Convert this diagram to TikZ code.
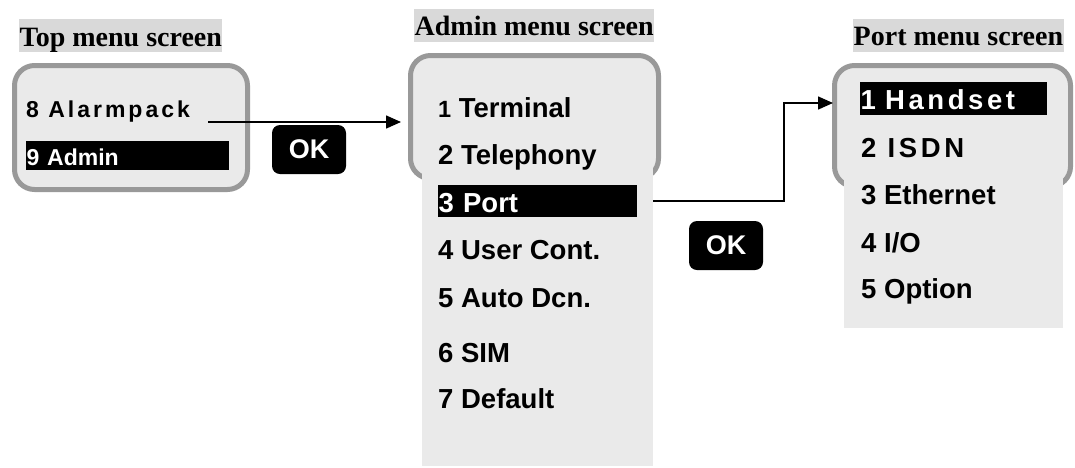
\documentclass[tikz,border=0pt]{standalone}
\usepackage{fontspec}
\setmainfont{Liberation Sans}
\newfontfamily\titlefont{Liberation Serif}
\newfontfamily\widefont[LetterSpace=13]{Liberation Sans}
\usetikzlibrary{arrows.meta}
\definecolor{scrfill}{HTML}{EAEAEA}
\definecolor{scrline}{HTML}{999999}
\definecolor{titlefill}{HTML}{D9D9D9}
\tikzset{
  screen/.style={draw=scrline, fill=scrfill, line width=5pt, rounded corners=20pt, inner sep=0pt},
  screenext/.style={fill=scrfill, inner sep=0pt, outer sep=0pt},
  menutitle/.style={fill=titlefill, anchor=base west, inner xsep=0.5pt, inner ysep=0pt,
    font=\titlefont\bfseries\fontsize{28}{30}\selectfont},
  item/.style={anchor=base west, inner sep=0pt, font=\bfseries\fontsize{27.5}{30}\selectfont},
  smallitem/.style={item, font=\bfseries\fontsize{23}{26}\selectfont},
  bar/.style={fill=black, text=white, align=left, inner xsep=0.5pt, inner ysep=0pt},
  okbtn/.style={fill=black, text=white, rounded corners=8pt, minimum width=74pt, minimum height=49pt,
    inner sep=0pt, font=\bfseries\fontsize{27}{30}\selectfont},
  flow/.style={-{Triangle[length=15pt,width=13pt]}, line width=1.5pt},
}
\begin{document}
\begin{tikzpicture}[x=1pt,y=-1pt]
  \useasboundingbox (0,0) rectangle (1075,467);
  % titles
  \node[menutitle, text height=27pt, text depth=6pt] (toptitle) at (19,46) {Top menu screen};
  \node[menutitle, text height=26pt, text depth=7pt] (admintitle) at (414,35) {Admin menu screen};
  \node[menutitle, text height=26pt, text depth=7pt] (porttitle) at (853,45) {Port menu screen};

  % screens
  \node[screen, minimum width=233pt, minimum height=124pt] (top) at (131,127.5) {};
  \node[screen, minimum width=248pt, minimum height=123pt] (admin) at (534.5,117) {};
  \node[screenext, minimum width=231pt, minimum height=306pt] (adminext) at (537.5,313) {};
  \node[screen, minimum width=236pt, minimum height=121pt] (port) at (952.5,126) {};
  \node[screenext, minimum width=219pt, minimum height=168pt] (portext) at (953.5,244) {};

  % top menu
  \node[smallitem] (alarm) at (26,117) {\widefont 8 Alarmpack};
  \node[smallitem, bar, text width=202pt, text height=24.7pt, text depth=4.3pt] (adminbar) at (26,165.7) {9 Admin};

  % admin menu
  \node[item] (adm1) at (438,117) {{\fontsize{23.5}{26}\selectfont 1} Terminal};
  \foreach \n/\y/\t in {2/164/Telephony,4/259/User Cont.,5/307/Auto Dcn.,6/362/SIM,7/408/Default}
    \node[item] (adm\n) at (438,\y) {\n\ \t};
  \node[item, bar, text width=198pt, text height=27pt, text depth=5pt] (portbar) at (438,212) {3 Port};

  % port menu
  \node[item, bar, text width=186pt, text height=27pt, text depth=6pt] (handsetbar) at (860,109) {\widefont 1 Handset};
  \node[item] (prt2) at (861,157) {\widefont 2 ISDN};
  \foreach \n/\y/\t in {3/204/Ethernet,4/252/{I/O},5/298/Option}
    \node[item] (prt\n) at (861,\y) {\n\ \t};

  % OK keys
  \node[okbtn] (okone) at (309,149.5) {OK};
  \node[okbtn] (oktwo) at (726,245.5) {OK};

  % connectors
  \coordinate (alarmout) at (208,122);
  \coordinate (bend) at (784,0);
  \coordinate (portin) at (833,103);
  \draw[flow, shorten >=7pt] (alarmout) -- (alarmout -| admin.west);
  \draw[flow] (portbar -| adminext.east) -- (portbar -| bend) |- (portin);
\end{tikzpicture}
\end{document}
